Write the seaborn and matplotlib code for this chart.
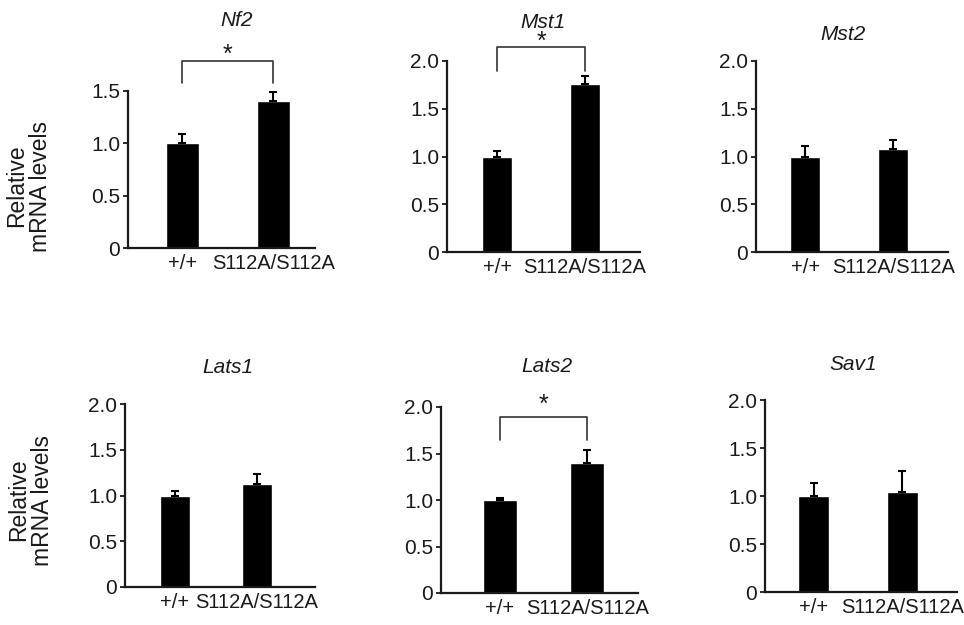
import numpy as np
import pandas as pd
import seaborn as sns
import matplotlib.pyplot as plt

sns.set_theme(style='ticks')
plt.rcParams['font.family'] = ['Liberation Sans', 'DejaVu Sans']

genes = ['Nf2', 'Mst1', 'Mst2', 'Lats1', 'Lats2', 'Sav1']
genotypes = ['+/+', 'S112A/S112A']
wt_mean = [1.00, 1.00, 1.00, 1.00, 1.00, 1.00]
ki_mean = [1.40, 1.76, 1.08, 1.13, 1.40, 1.04]
wt_err = [0.09, 0.06, 0.11, 0.05, 0.02, 0.14]
ki_err = [0.09, 0.08, 0.09, 0.10, 0.14, 0.22]
significant = [True, True, False, False, True, False]
y_max = [1.5, 2.0, 2.0, 2.0, 2.0, 2.0]
ylabel = 'Relative\nmRNA levels'

# bracket line, leg bottom and star centre, data units
bracket_top = [1.79, 2.15, None, None, 1.89, None]
bracket_leg = [1.58, 1.90, None, None, 1.645, None]
star_y = [1.91, 2.27, None, None, 2.10, None]

W, H = 964, 625
# axes rectangles in pixels: left, right, top, bottom
rects = [(128, 315, 91, 248), (447, 640, 61, 252), (756, 948, 61, 252),
         (125, 315, 404, 587), (441, 638, 407, 593), (765, 957, 400, 592)]
xlims = [(-0.60, 1.46), (-0.57, 1.625), (-0.56, 1.625),
         (-0.61, 1.71), (-0.67, 1.58), (-0.55, 1.62)]
bar_w = [0.36, 0.34, 0.34, 0.37, 0.39, 0.35]
title_xy = [(237, 21), (543, 22), (843, 35), (228, 367), (547, 366), (853, 365)]
ink = '#1a1a1a'

fig = plt.figure(figsize=(W / 100, H / 100), dpi=100)

for i, gene in enumerate(genes):
    l, r, t, b = rects[i]
    ax = fig.add_axes([l / W, 1 - b / H, (r - l) / W, (b - t) / H])
    df = pd.DataFrame({'genotype': genotypes, 'level': [wt_mean[i], ki_mean[i]]})
    sns.barplot(data=df, x='genotype', y='level', color='black', width=bar_w[i],
                errorbar=None, saturation=1, ax=ax)
    ax.errorbar([0, 1], df['level'], yerr=[[0, 0], [wt_err[i], ki_err[i]]],
                fmt='none', ecolor='black', elinewidth=1.5, capsize=2.8, capthick=1.5)
    ax.set_xlim(*xlims[i])
    ax.set_ylim(0, y_max[i])
    ticks = np.arange(0, y_max[i] + 0.01, 0.5)
    ax.set_yticks(ticks)
    ax.set_yticklabels(['0'] + [f'{v:.1f}' for v in ticks[1:]])
    ax.set_xlabel('')
    ax.set_ylabel('')
    sns.despine(ax=ax)
    for s in ['left', 'bottom']:
        ax.spines[s].set_linewidth(1.6)
        ax.spines[s].set_color(ink)
    ax.tick_params(axis='y', length=3.5, width=1.3, color=ink, labelsize=15,
                   labelcolor=ink, pad=2)
    ax.tick_params(axis='x', length=0, labelsize=14.5, labelcolor=ink, pad=4)

    if significant[i]:
        top, leg = bracket_top[i], bracket_leg[i]
        ax.plot([0, 0, 1, 1], [leg, top, top, leg], color='#333333', lw=1.2,
                clip_on=False)
        ax.annotate('*', xy=(0.5, star_y[i]), xytext=(0, -10),
                    textcoords='offset points', ha='center', va='baseline',
                    fontsize=18, color=ink, annotation_clip=False)

    tx, ty = title_xy[i]
    fig.text(tx / W, 1 - ty / H, gene, ha='center', va='center', fontsize=15,
             style='italic', color=ink)

fig.text(29 / W, 1 - 186 / H, ylabel, rotation=90, ha='center', va='center',
         fontsize=16.5, color=ink, linespacing=1.05)
fig.text(31 / W, 1 - 500 / H, ylabel, rotation=90, ha='center', va='center',
         fontsize=16.5, color=ink, linespacing=1.05)

fig.savefig('out.png', dpi=100, facecolor='white')
